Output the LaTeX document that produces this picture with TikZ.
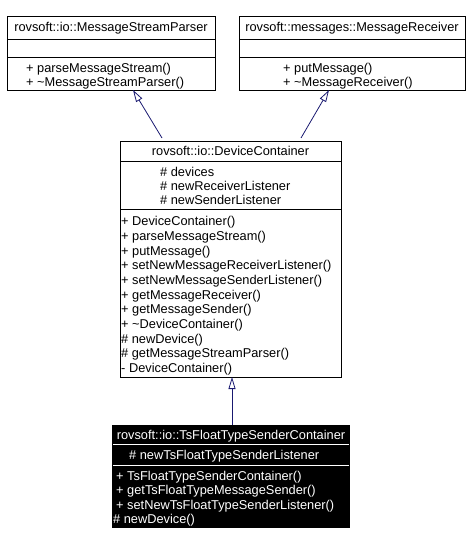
\documentclass[tikz,border=0pt]{standalone}
\usepackage{fontspec}
\setmainfont{Liberation Sans}
\usetikzlibrary{arrows.meta}
\definecolor{edgeblue}{RGB}{25,25,112}
\tikzset{
  txt/.style={inner sep=0pt, font=\fontsize{12.8}{14.7}\selectfont},
  member/.style={txt, anchor=base west},
  title/.style={txt, anchor=base},
  boxline/.style={line width=0.8pt},
  inherit/.style={edgeblue, line width=0.8pt, -{Triangle[open, length=12pt, width=7pt]}},
}
\begin{document}
\begin{tikzpicture}[x=1pt,y=-1pt]
\useasboundingbox (0,0) rectangle (470,545);
%\draw[step=10,gray,very thin] (0,0) grid (470,545); %background grid

% base class 1
\draw[boxline] (7,16) rectangle (215,90);
\draw[boxline] (7,39) -- (215,39);
\draw[boxline] (7,57) -- (215,57);
\node[title] (parsertitle) at (111,31.6) {rovsoft::io::MessageStreamParser};
\node[member] (parserm1) at (26,72.6) {+ parseMessageStream()};
\node[member] (parserm2) at (26,86.4) {+ \textasciitilde MessageStreamParser()};

% base class 2
\draw[boxline] (239,16) rectangle (465,90);
\draw[boxline] (239,39) -- (465,39);
\draw[boxline] (239,57) -- (465,57);
\node[title] (receivertitle) at (352,31.6) {rovsoft::messages::MessageReceiver};
\node[member] (receiverm1) at (283,72.6) {+ putMessage()};
\node[member] (receiverm2) at (283,86.4) {+ \textasciitilde MessageReceiver()};

% DeviceContainer
\draw[boxline] (120,141) rectangle (341,377);
\draw[boxline] (120,161) -- (341,161);
\draw[boxline] (120,209) -- (341,209);
\node[title] (dctitle) at (230.5,155.6) {rovsoft::io::DeviceContainer};
\node[member] (dca1) at (160,176.6) {\# devices};
\node[member] (dca2) at (160,190.6) {\# newReceiverListener};
\node[member] (dca3) at (160,204.6) {\# newSenderListener};
\node[member] (dcm1) at (121,225.6) {+ DeviceContainer()};
\node[member] (dcm2) at (121,240.3) {+ parseMessageStream()};
\node[member] (dcm3) at (121,255.0) {+ putMessage()};
\node[member] (dcm4) at (121,269.7) {+ setNewMessageReceiverListener()};
\node[member] (dcm5) at (121,284.4) {+ setNewMessageSenderListener()};
\node[member] (dcm6) at (121,299.1) {+ getMessageReceiver()};
\node[member] (dcm7) at (121,313.8) {+ getMessageSender()};
\node[member] (dcm8) at (121,328.5) {+ \textasciitilde DeviceContainer()};
\node[member] (dcm9) at (121,343.2) {\# newDevice()};
\node[member] (dcm10) at (121,357.9) {\# getMessageStreamParser()};
\node[member] (dcm11) at (121,372.6) {- DeviceContainer()};

% TsFloatTypeSenderContainer (highlighted)
\fill[black] (112,425) rectangle (350,528);
\draw[boxline,white] (113,444) -- (349,444);
\draw[boxline,white] (113,465) -- (349,465);
\node[title,white] (tstitle) at (231,439.5) {rovsoft::io::TsFloatTypeSenderContainer};
\node[member,white] (tsa1) at (129,459.6) {\# newTsFloatTypeSenderListener};
\node[member,white] (tsm1) at (116,480.6) {+ TsFloatTypeSenderContainer()};
\node[member,white] (tsm2) at (116,494.8) {+ getTsFloatTypeMessageSender()};
\node[member,white] (tsm3) at (116,509.0) {+ setNewTsFloatTypeSenderListener()};
\node[member,white] (tsm4) at (113,523.2) {\# newDevice()};

% connector ends
\coordinate (parserfoot) at (133,90);
\coordinate (receiverfoot) at (329,90);
\coordinate (dcleft) at (162,138);
\coordinate (dcright) at (301,138);
\coordinate (dcfoot) at (232,377);
\coordinate (tstop) at (232,425);

\draw[inherit] (dcleft) -- (parserfoot);
\draw[inherit] (dcright) -- (receiverfoot);
\draw[inherit] (tstop) -- (dcfoot);
\end{tikzpicture}
\end{document}
